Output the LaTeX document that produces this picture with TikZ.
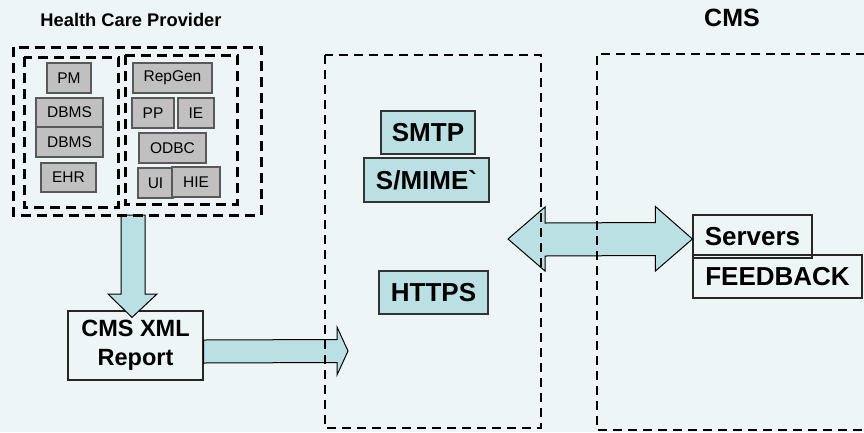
\documentclass[tikz,border=0pt]{standalone}
\usepackage{fontspec}
\setmainfont{Liberation Sans}[Ligatures=TeXOff]
\usetikzlibrary{calc}
\definecolor{bg}{RGB}{237,245,247}
\definecolor{tealfill}{RGB}{187,224,227}
\definecolor{greyfill}{RGB}{192,192,192}
\begin{document}
\begin{tikzpicture}[x=1pt,y=-1pt,
  greybox/.style={draw=black!65, line width=1.2pt, fill=greyfill, inner sep=0pt, font=\fontsize{15.5}{18}\selectfont},
  tealbox/.style={draw=black!80, line width=1.3pt, fill=tealfill, inner sep=0pt, font=\bfseries\fontsize{26}{30}\selectfont},
  whitebox/.style={draw=black!85, line width=1.2pt, inner sep=0pt, font=\bfseries\fontsize{26}{30}\selectfont},
  blockarrow/.style={draw=black, line width=1pt, fill=tealfill, line join=miter},
  heavydash/.style={draw=black, line width=3pt, dash pattern=on 10pt off 6pt},
  lightdash/.style={draw=black, line width=2pt, dash pattern=on 9pt off 6pt},
  title/.style={inner sep=0pt, font=\bfseries\fontsize{18.3}{21}\selectfont}]
\fill[bg] (0,0) rectangle (864,432);
\useasboundingbox (0,0) rectangle (864,432);

% titles
\node[title] (hcptitle) at (131,20) {Health Care Provider};
\node[title, font=\bfseries\fontsize{25}{28}\selectfont] (cmstitle) at (732,18) {CMS};

% grey component boxes
\node[greybox, minimum width=44pt, minimum height=30pt] (pm) at (69,78) {PM};
\node[greybox, minimum width=67pt, minimum height=29pt] (dbms1) at (69.5,112.5) {DBMS};
\node[greybox, minimum width=67pt, minimum height=30pt] (dbms2) at (69.5,142) {DBMS};
\node[greybox, minimum width=55pt, minimum height=29pt] (ehr) at (68.5,177.5) {EHR};
\node[greybox, minimum width=79pt, minimum height=30pt] (repgen) at (172.5,78) {RepGen};
\node[greybox, minimum width=42pt, minimum height=30pt] (pp) at (153,113) {PP};
\node[greybox, minimum width=36pt, minimum height=30pt] (ie) at (196,113) {IE};
\node[greybox, minimum width=67pt, minimum height=30pt] (odbc) at (172.5,148) {ODBC};
\node[greybox, minimum width=35pt, minimum height=30pt] (ui) at (155.5,183) {UI};
\node[greybox, minimum width=48pt, minimum height=30pt] (hie) at (196,182) {HIE};

% report box
\node[whitebox, minimum width=135pt, minimum height=69pt, align=center,
      font=\bfseries\fontsize{23.5}{29}\selectfont] (report) at (135.5,345.5) {CMS XML\\Report};

% protocol boxes
\node[tealbox, minimum width=94pt, minimum height=43pt] (smtp) at (428,132.5) {SMTP};
\node[tealbox, minimum width=125pt, minimum height=44pt] (smime) at (426.5,180) {S/MIME`};
\node[tealbox, minimum width=109pt, minimum height=43pt] (https) at (433.5,292.5) {HTTPS};

% CMS boxes
\node[whitebox, minimum width=119pt, minimum height=43pt] (servers) at (752.5,236.5) {Servers};
\node[whitebox, minimum width=169pt, minimum height=43pt] (feedback) at (777.5,276.5) {FEEDBACK};

% named coordinates for the block arrows
\coordinate (hcpbottom) at (133,215);
\coordinate (midleft) at (348,351);
\coordinate (midright) at (508,239);

% down arrow: provider -> report
\draw[blockarrow] ($(hcpbottom)+(-12,0)$) -- ($(hcpbottom)+(12,0)$) -- ($(hcpbottom)+(12,79)$)
  -- ($(hcpbottom)+(24,79)$) -- ($(report.north)+(-3.5,7)$) -- ($(hcpbottom)+(-25,79)$)
  -- ($(hcpbottom)+(-12,79)$) -- cycle;

% right arrow: report -> middle
\draw[blockarrow] ($(report.east)+(0,-5.5)$) -- ($(midleft)+(-11,-11.5)$) -- ($(midleft)+(-11,-24)$)
  -- (midleft) -- ($(midleft)+(-11,24)$) -- ($(midleft)+(-11,11.5)$) -- ($(report.east)+(0,17.5)$) -- cycle;

% double arrow: middle <-> servers
\draw[blockarrow] (midright) -- ($(midright)+(37,-32)$) -- ($(midright)+(37,-16)$)
  -- ($(servers.west)+(-37,-14)$) -- ($(servers.west)+(-37,-30)$) -- ($(servers.west)+(0,2.5)$)
  -- ($(servers.west)+(-37,34.5)$) -- ($(servers.west)+(-37,19)$) -- ($(midright)+(37,17)$)
  -- ($(midright)+(37,32)$) -- cycle;

% dashed groupings
\draw[heavydash] (13,47) rectangle (261,215);
\draw[heavydash] (24,57) rectangle (118,207);
\draw[heavydash] (125,55) rectangle (237,204);
\draw[lightdash] (325,55) rectangle (541,428);
\draw[lightdash] (880,54) -- (597,54) -- (597,430) -- (880,430);
\end{tikzpicture}
\end{document}
